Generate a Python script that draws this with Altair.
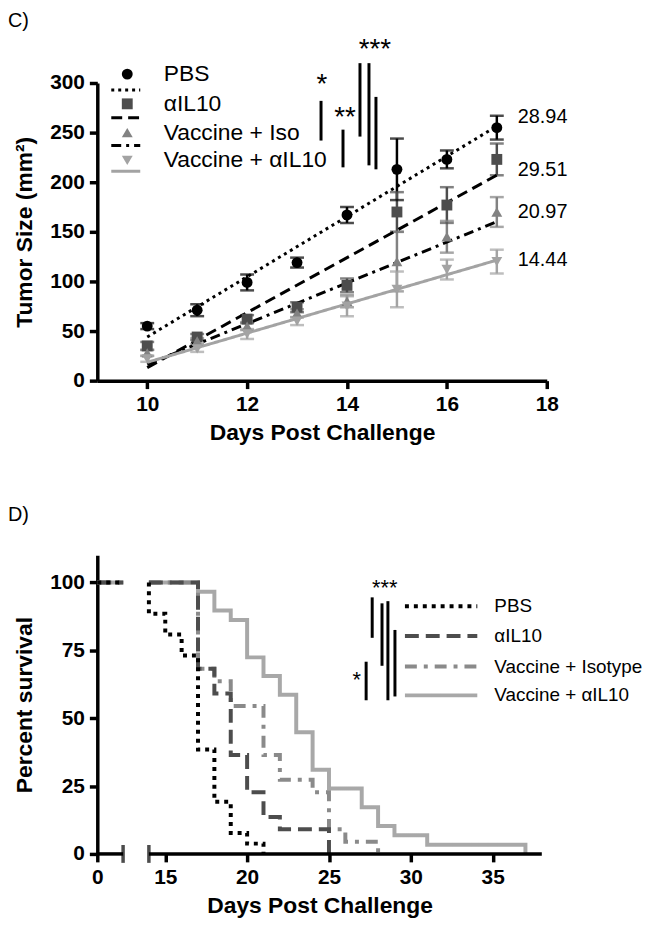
import altair as alt
import pandas as pd

FONT = "Liberation Sans"

# ---------------- Panel C data (tumor size) ----------------
days_c = [10, 11, 12, 13, 14, 15, 16, 17]
groups_c = ["PBS", "αIL10", "Vaccine + Iso", "Vaccine + αIL10"]
pbs_mean = [55, 71, 99, 119, 167, 213, 223, 255]
pbs_err = [3, 6, 8, 5, 8, 31, 9, 12]
il10_mean = [35, 44, 62, 74, 96, 170, 177, 223]
il10_err = [4, 3, 4, 5, 7, 20, 18, 16]
iso_mean = [28, 40, 55, 68, 80, 120, 145, 170]
iso_err = [3, 3, 4, 4, 6, 30, 16, 15]
vac_mean = [22, 32, 47, 60, 75, 92, 112, 120]
vac_err = [3, 3, 5, 4, 10, 18, 10, 12]
slope_labels = ["28.94", "29.51", "20.97", "14.44"]
stars_c = ["*", "**", "***"]

# ---------------- Panel D data (survival) ----------------
groups_d = ["PBS", "αIL10", "Vaccine + Isotype", "Vaccine + αIL10"]
pbs_t = [14, 14, 15, 16, 17, 18, 19, 20, 21]
pbs_s = [100, 88.5, 80.8, 73.1, 38.5, 19.2, 7.7, 3.8, 0]
il10_t = [14, 17, 18, 19, 20, 21, 22, 25]
il10_s = [100, 68.2, 59.1, 36.4, 22.7, 13.6, 9.1, 0]
iso_t = [14, 17, 18, 19, 21, 22, 24, 25, 26, 28]
iso_s = [100, 68.2, 63.6, 54.5, 36.4, 27.3, 22.7, 9.1, 4.5, 0]
vac_t = [14, 17, 18, 19, 20, 21, 22, 23, 24, 25, 27, 28, 29, 31, 37]
vac_s = [100, 96.6, 89.7, 86.2, 72.4, 65.5, 58.6, 44.8, 31.0, 24.1, 17.2, 10.3, 6.9, 3.4, 0]
stars_d = ["***", "*"]

# ---------------- styles ----------------
pt_colors = ["#000000", "#4d4d4d", "#828282", "#a3a3a3"]
fit_colors = ["#000000", "#000000", "#000000", "#a3a3a3"]
fit_dash = [[3, 4], [11, 6], [10, 5, 3, 5], [1, 0]]
shapes = ["circle", "square", "triangle-up", "triangle-down"]
km_colors = ["#000000", "#4d4d4d", "#8a8a8a", "#a8a8a8"]
km_dash = [[4, 5], [14, 7], [12, 7, 4, 7], [1, 0]]
km_draw_rank = [4, 3, 2, 1]  # drawing order of survival curves (PBS on top)

# ---------------- tables ----------------
rows = []
for g, m, e in zip(groups_c, [pbs_mean, il10_mean, iso_mean, vac_mean],
                   [pbs_err, il10_err, iso_err, vac_err]):
    for d, mv, ev in zip(days_c, m, e):
        rows.append({"group": g, "day": d, "mean": mv, "lo": mv - ev, "hi": mv + ev})
dfc = pd.DataFrame(rows)

# legend / annotation layout for panel C (data coordinates)
leg_c = pd.DataFrame({
    "group": groups_c,
    "mx": [9.6] * 4,
    "my": [309, 279, 250, 222],
    "lx1": [9.28] * 4,
    "lx2": [9.86] * 4,
    "ly": [293, 265, 237, 211],
    "tx": [10.33] * 4,
})
slope_df = pd.DataFrame({"t": slope_labels, "x": [17.42] * 4, "y": [266, 212, 170, 122]})
sig_c = pd.DataFrame({"x": [13.48, 13.92, 14.26, 14.44, 14.58],
                      "y1": [282, 253, 320, 320, 286],
                      "y2": [242, 215, 246, 217, 213]})
star_c_df = pd.DataFrame({"t": stars_c, "x": [13.5, 13.96, 14.56], "y": [290, 257, 325]})

krows = []
for g, ts, ss, rk in zip(groups_d, [pbs_t, il10_t, iso_t, vac_t], [pbs_s, il10_s, iso_s, vac_s], km_draw_rank):
    krows.append({"group": g, "seg": f"{rk}L", "idx": 0, "day": 0, "surv": 100})
    krows.append({"group": g, "seg": f"{rk}L", "idx": 1, "day": 2.1, "surv": 100})
    for i, (t, s) in enumerate(zip(ts, ss)):
        krows.append({"group": g, "seg": f"{rk}R", "idx": i, "day": t, "surv": s})
dfd = pd.DataFrame(krows).sort_values(["seg", "idx"]).reset_index(drop=True)

leg_d = pd.DataFrame({"group": groups_d, "lx1": [29.64] * 4, "lx2": [34.06] * 4,
                      "ly": [91.2, 80.3, 69.0, 58.4], "tx": [35.1] * 4})
sig_d = pd.DataFrame({"x": [27.64, 28.24, 28.6, 29.03, 27.27],
                      "y1": [94.5, 92.3, 93.1, 82.5, 70.8],
                      "y2": [79.6, 69.3, 56.6, 58.0, 56.6]})
star_d_df = pd.DataFrame({"t": stars_d, "x": [28.4, 26.7], "y": [95.4, 61.4]})
axis_d = pd.DataFrame({"a": [0, 14], "b": [2, 38], "z": [0, 0]})
caps_d = pd.DataFrame({"a": [2, 14], "z": [0, 0]})

# ---------------- Panel C ----------------
sx_c = alt.Scale(domain=[9, 18], nice=False, zero=False)
sy_c = alt.Scale(domain=[0, 300], nice=False, zero=False)
ax_x_c = alt.Axis(values=[10, 12, 14, 16, 18], title="Days Post Challenge", labelFlush=False, titlePadding=7)
ax_y_c = alt.Axis(values=[0, 50, 100, 150, 200, 250, 300], title="Tumor Size (mm²)", labelFlush=False,
                  titlePadding=13)


def xc(f):
    return alt.X(f"{f}:Q", scale=sx_c, axis=ax_x_c)


def yc(f):
    return alt.Y(f"{f}:Q", scale=sy_c, axis=ax_y_c)


col_c = alt.Color("group:N", scale=alt.Scale(domain=groups_c, range=pt_colors), legend=None)
shp_c = alt.Shape("group:N", scale=alt.Scale(domain=groups_c, range=shapes), legend=None)
str_c = alt.Stroke("group:N", scale=alt.Scale(domain=groups_c, range=fit_colors), legend=None)
dash_c = alt.StrokeDash("group:N", scale=alt.Scale(domain=groups_c, range=fit_dash), legend=None)

err = alt.Chart(dfc).mark_rule(strokeWidth=2.5).encode(x=xc("day"), y=yc("lo"), y2="hi:Q", color=col_c)
caps = alt.Chart(dfc).transform_fold(["lo", "hi"], as_=["end", "cap"]).mark_tick(
    orient="horizontal", size=14, thickness=2.5).encode(x=xc("day"), y=yc("cap"), color=col_c)
pts = alt.Chart(dfc).mark_point(filled=True, size=120, opacity=1).encode(
    x=xc("day"), y=yc("mean"), color=col_c, shape=shp_c)
fit = alt.Chart(dfc).transform_regression("day", "mean", groupby=["group"]).mark_line(
    strokeWidth=3).encode(x=xc("day"), y=yc("mean"), stroke=str_c, strokeDash=dash_c)

lg_pts = alt.Chart(leg_c).mark_point(filled=True, size=120, opacity=1).encode(
    x=xc("mx"), y=yc("my"), color=col_c, shape=shp_c)
lg_lines = alt.Chart(leg_c).mark_rule(strokeWidth=3).encode(
    x=xc("lx1"), x2="lx2:Q", y=yc("ly"), stroke=str_c, strokeDash=dash_c)
lg_text = alt.Chart(leg_c).mark_text(align="left", baseline="middle", fontSize=23, color="black").encode(
    x=xc("tx"), y=yc("my"), text="group:N")
slopes = alt.Chart(slope_df).mark_text(align="left", baseline="middle", fontSize=20, color="black").encode(
    x=xc("x"), y=yc("y"), text="t:N")
sigc = alt.Chart(sig_c).mark_rule(strokeWidth=3, color="black").encode(x=xc("x"), y=yc("y1"), y2="y2:Q")
starc = alt.Chart(star_c_df).mark_text(align="center", baseline="alphabetic", fontSize=28, color="black").encode(
    x=xc("x"), y=yc("y"), text="t:N")
lab_c = alt.Chart(pd.DataFrame({"t": ["C)"]})).mark_text(
    align="left", baseline="top", fontSize=20, color="black").encode(
    x=alt.value(-90), y=alt.value(-72), text="t:N")

panel_c = alt.layer(err, caps, fit, pts, lg_pts, lg_lines, lg_text, slopes, sigc, starc, lab_c).properties(
    width=453, height=300)

# ---------------- Panel D ----------------
sx_d = alt.Scale(domain=[0, 2, 14, 38], range=[0, 26, 52, 448], nice=False, zero=False)
sy_d = alt.Scale(domain=[0, 110], nice=False, zero=False)
ax_x_d = alt.Axis(values=[0, 15, 20, 25, 30, 35], title="Days Post Challenge", domain=False, labelFlush=False,
                  titlePadding=7)
ax_y_d = alt.Axis(values=[0, 25, 50, 75, 100], title="Percent survival", labelFlush=False, titlePadding=13)


def xd(f):
    return alt.X(f"{f}:Q", scale=sx_d, axis=ax_x_d)


def yd(f):
    return alt.Y(f"{f}:Q", scale=sy_d, axis=ax_y_d)


str_d = alt.Stroke("group:N", scale=alt.Scale(domain=groups_d, range=km_colors), legend=None)
dash_d = alt.StrokeDash("group:N", scale=alt.Scale(domain=groups_d, range=km_dash), legend=None)

km = alt.Chart(dfd).mark_line(interpolate="step-after", strokeWidth=4).encode(
    x=xd("day"), y=yd("surv"), stroke=str_d, strokeDash=dash_d, detail="seg:N", order="idx:Q")
axl = alt.Chart(axis_d).mark_rule(strokeWidth=3.5, color="black").encode(x=xd("a"), x2="b:Q", y=yd("z"))
axc = alt.Chart(caps_d).mark_tick(orient="vertical", size=18, thickness=3.5, color="black").encode(
    x=xd("a"), y=yd("z"))
lgd_lines = alt.Chart(leg_d).mark_rule(strokeWidth=4).encode(
    x=xd("lx1"), x2="lx2:Q", y=yd("ly"), stroke=str_d, strokeDash=dash_d)
lgd_text = alt.Chart(leg_d).mark_text(align="left", baseline="middle", fontSize=19, color="black").encode(
    x=xd("tx"), y=yd("ly"), text="group:N")
sigd = alt.Chart(sig_d).mark_rule(strokeWidth=3, color="black").encode(x=xd("x"), y=yd("y1"), y2="y2:Q")
stard = alt.Chart(star_d_df).mark_text(align="center", baseline="alphabetic", fontSize=22, color="black").encode(
    x=xd("x"), y=yd("y"), text="t:N")
lab_d = alt.Chart(pd.DataFrame({"t": ["D)"]})).mark_text(
    align="left", baseline="top", fontSize=20, color="black").encode(
    x=alt.value(-90), y=alt.value(-51), text="t:N")

panel_d = alt.layer(km, axl, axc, lgd_lines, lgd_text, sigd, stard, lab_d).properties(width=448, height=301)

chart = alt.vconcat(panel_c, panel_d, spacing=61).resolve_scale(
    color="independent", shape="independent", stroke="independent", strokeDash="independent"
).properties(padding=0).configure(
    font=FONT
).configure_view(stroke=None).configure_axis(
    grid=False, domainColor="black", domainWidth=3.5, tickColor="black", tickWidth=3.5, tickSize=8,
    labelFont=FONT, labelFontSize=21, labelFontWeight="bold", labelColor="black", labelPadding=5,
    titleFont=FONT, titleFontSize=23, titleFontWeight="bold", titleColor="black",
)

chart.save("out.html", embed_options={"renderer": "svg", "actions": False})
